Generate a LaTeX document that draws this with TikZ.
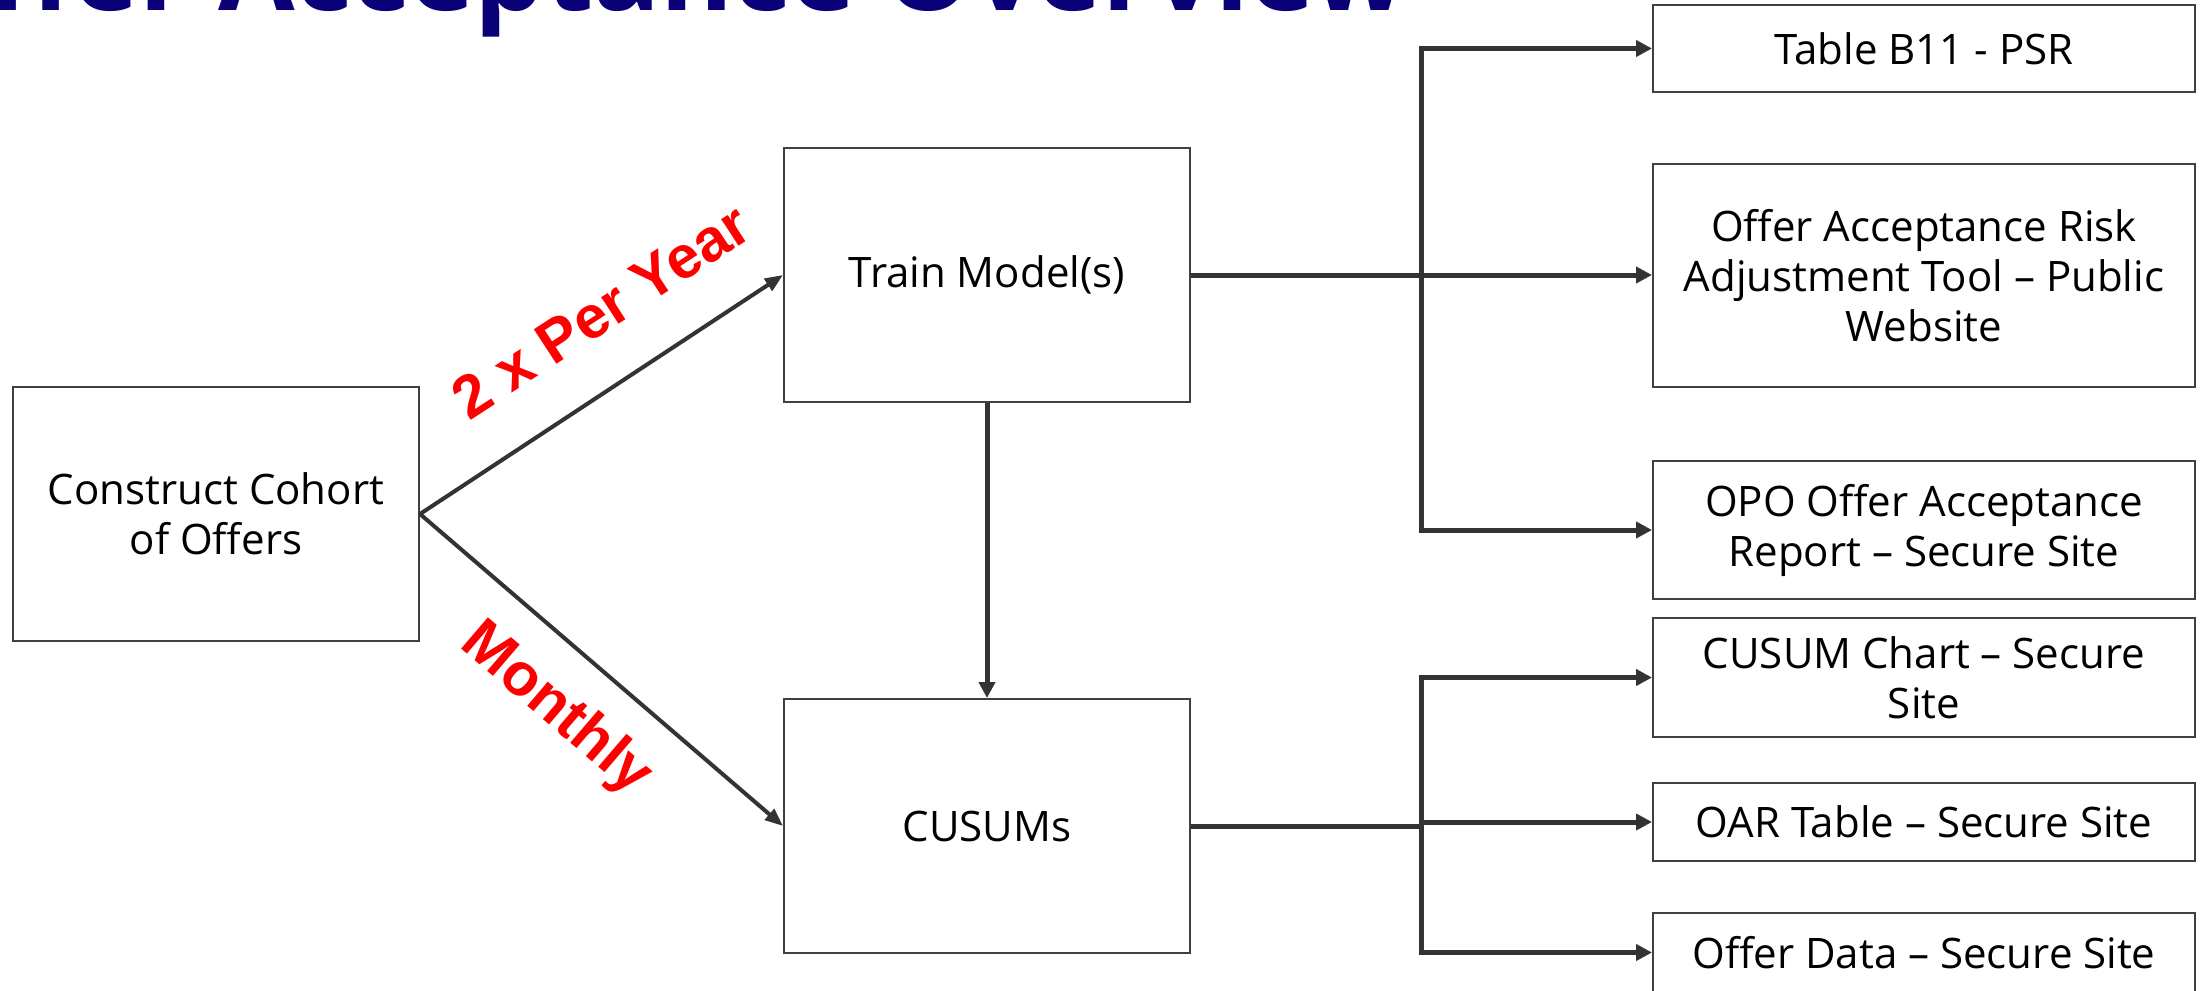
\documentclass[tikz,border=0pt]{standalone}
\usepackage{fontspec}
\setmainfont{Open Sans}
\newfontfamily\labelfont{Liberation Sans}
\usetikzlibrary{arrows.meta}
\definecolor{titlenavy}{RGB}{10,0,120}
\definecolor{linegray}{RGB}{51,51,51}
\definecolor{boxgray}{RGB}{64,64,64}
\definecolor{labelred}{RGB}{255,0,0}

\begin{document}
\begin{tikzpicture}[x=1pt,y=-1pt,
  box/.style={draw=boxgray, line width=2pt, fill=white, inner sep=0pt, align=center,
    font=\fontsize{42}{50}\selectfont, text=black},
  feed/.style={draw=linegray, line width=5pt},
  feedarrow/.style={feed, -{Triangle[length=16pt,width=16pt]}},
  diagarrow/.style={draw=linegray, line width=4pt, -{Triangle[length=18pt,width=14pt]}},
  freq/.style={text=labelred, font=\labelfont\bfseries\fontsize{60}{62}\selectfont, inner sep=0pt},
  heading/.style={text=titlenavy, font=\bfseries\fontsize{111}{120}\selectfont, inner sep=0pt}
]
\clip (0,0) rectangle (2210,990);
\fill[white] (0,0) rectangle (2210,990);

% slide heading, partly above the frame
\node[heading, anchor=base east] (title) at (1408,11) {Offer Acceptance Overview};

% process boxes
\node[box, minimum width=406pt, minimum height=254pt] (cohort) at (216,514) {Construct Cohort\\of Offers};
\node[box, minimum width=406pt, minimum height=254pt] (train) at (987,275) {Train Model(s)};
\node[box, minimum width=406pt, minimum height=254pt] (cusum) at (987,826) {CUSUMs};

% outputs
\node[box, minimum width=542pt, minimum height=87pt] (b11) at (1924,48.5) {Table B11 - PSR};
\node[box, minimum width=542pt, minimum height=223pt] (risk) at (1924,275.5) {Offer Acceptance Risk\\Adjustment Tool – Public\\Website};
\node[box, minimum width=542pt, minimum height=138pt] (opo) at (1924,530) {OPO Offer Acceptance\\Report – Secure Site};
\node[box, minimum width=542pt, minimum height=119pt] (chart) at (1924,677.5) {CUSUM Chart – Secure\\Site};
\node[box, minimum width=542pt, minimum height=78pt] (oar) at (1924,822) {OAR Table – Secure Site};
\node[box, minimum width=542pt, minimum height=79pt] (data) at (1924,952.5) {Offer Data – Secure Site};

% schedule arrows
\draw[diagarrow] (cohort.east) -- (train.west);
\draw[diagarrow] (cohort.east) -- (cusum.west);
\node[freq, rotate=33.1] (peryear) at (601,311) {2 x Per Year};
\node[freq, rotate=-40.6] (monthly) at (556,710) {Monthly};

% model feeds the CUSUMs
\draw[feedarrow] (train.south) -- (cusum.north);

% fan-out from the model
\coordinate (upj) at (1421,275);
\draw[feed] (train.east) -- (upj);
\draw[feedarrow] (upj) |- (b11.west);
\draw[feedarrow] (upj) -- (upj -| risk.west);
\draw[feedarrow] (upj) |- (opo.west);

% fan-out from the CUSUMs
\coordinate (lowj) at (1421,826);
\draw[feed] (cusum.east) -- (lowj);
\draw[feedarrow] (lowj) |- (chart.west);
\draw[feedarrow] (lowj) |- (oar.west);
\draw[feedarrow] (lowj) |- (data.west);
\end{tikzpicture}
\end{document}
